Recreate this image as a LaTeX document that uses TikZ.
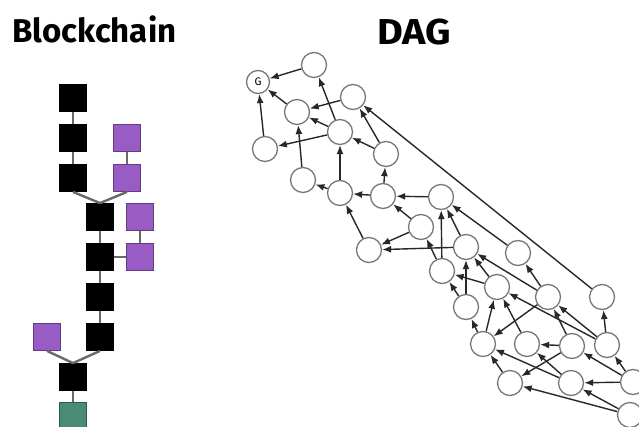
\documentclass[tikz,border=0pt]{standalone}
\usepackage{fontspec}
\setmainfont{Fira Sans}
\usetikzlibrary{arrows.meta}
\definecolor{blockpurple}{RGB}{152,92,196}
\definecolor{blockgreen}{RGB}{74,140,115}
\definecolor{edgegray}{RGB}{40,40,40}
\definecolor{ringgray}{RGB}{120,120,120}
\definecolor{linkgray}{RGB}{105,105,105}

\begin{document}
\begin{tikzpicture}[x=1pt,y=-1pt,
  title/.style={font=\fontsize{33}{33}\selectfont\bfseries, inner sep=0pt, anchor=base west},
  blk/.style={minimum size=27pt, inner sep=0pt, line width=0.8pt},
  chainblk/.style={blk, fill=black, draw=black},
  sideblk/.style={blk, fill=blockpurple, draw=blockpurple!65!black},
  rootblk/.style={blk, fill=blockgreen, draw=blockgreen!65!black},
  link/.style={draw=linkgray, line width=2.4pt},
  tx/.style={circle, draw=ringgray, line width=1.3pt, fill=white, minimum size=25pt, inner sep=0pt},
  genesis/.style={tx, minimum size=23pt, font=\fontsize{11}{11}\selectfont},
  ref/.style={draw=edgegray, line width=1.4pt, -{Latex[length=9pt,width=7pt]}}]

\useasboundingbox (0,0) rectangle (639,427);
\fill[white] (0,0) rectangle (639,427);

% titles
\node[title] (tb) at (12,43) {Blockchain};
\node[title, font=\fontsize{36}{36}\selectfont\bfseries, xscale=1.1] (td) at (377,45) {DAG};

% ---------- blockchain ----------
\node[chainblk] (b1) at (73,98) {};
\node[chainblk] (b2) at (73,138) {};
\node[chainblk] (b3) at (73,178) {};
\node[chainblk] (b4) at (100,217) {};
\node[chainblk] (b5) at (100,257) {};
\node[chainblk] (b6) at (100,297) {};
\node[chainblk] (b7) at (100,337) {};
\node[chainblk] (b8) at (73,377) {};
\node[rootblk]  (b0) at (73,416) {};
\node[sideblk] (p1) at (127,138) {};
\node[sideblk] (p2) at (127,178) {};
\node[sideblk] (p3) at (140,217) {};
\node[sideblk] (p4) at (140,257) {};
\node[sideblk] (p5) at (47,337) {};

\draw[link] (b1) -- (b2);
\draw[link] (b2) -- (b3);
\draw[link] (b3.south) -- (b4.north);
\draw[link] (p2.south) -- (b4.north);
\draw[link] (p1) -- (p2);
\draw[link] (b4) -- (b5);
\draw[link] (b5) -- (b6);
\draw[link] (b6) -- (b7);
\draw[link] (p3) -- (p4);
\draw[link] (b5) -- (p4);
\draw[link] (b7.south) -- (b8.north);
\draw[link] (p5.south) -- (b8.north);
\draw[link] (b8) -- (b0);

% ---------- DAG ----------
\node[genesis] (g) at (258,82) {G};
\node[tx] (n1)  at (314,65) {};
\node[tx] (n2)  at (297,112) {};
\node[tx] (n3)  at (353,97) {};
\node[tx] (n4)  at (265,149) {};
\node[tx] (n5)  at (340,132) {};
\node[tx] (n6)  at (303,180) {};
\node[tx] (n7)  at (340,193) {};
\node[tx] (n8)  at (386,154) {};
\node[tx] (n9)  at (383,196) {};
\node[tx] (n10) at (441,197) {};
\node[tx] (n11) at (421,227) {};
\node[tx] (n12) at (369,250) {};
\node[tx] (n13) at (466,247) {};
\node[tx] (n14) at (442,271) {};
\node[tx] (n15) at (518,253) {};
\node[tx] (n16) at (497,287) {};
\node[tx] (n17) at (548,297) {};
\node[tx] (n18) at (602,297) {};
\node[tx] (n19) at (466,307) {};
\node[tx] (n20) at (483,344) {};
\node[tx] (n21) at (527,344) {};
\node[tx] (n22) at (572,346) {};
\node[tx] (n23) at (607,345) {};
\node[tx] (n24) at (510,383) {};
\node[tx] (n25) at (571,383) {};
\node[tx] (n26) at (633,382) {};
\node[tx] (n27) at (630,415) {};

\foreach \a/\b in {n1/g, n2/g, n4/g,
  n5/n1, n3/n2, n5/n2, n6/n2, n5/n4,
  n7/n5, n8/n5, n8/n3, n18/n3,
  n9/n8, n7/n6, n9/n7, n10/n9, n11/n9, n12/n7,
  n11/n12, n13/n12,
  n14/n10, n13/n10, n15/n10,
  n14/n11, n19/n13, n16/n13, n17/n13, n16/n14, n19/n14,
  n17/n15, n23/n18,
  n20/n19, n20/n16, n21/n16, n23/n16,
  n17/n20, n22/n17, n23/n17,
  n22/n21, n25/n21, n22/n24, n25/n20, n24/n20,
  n26/n22, n26/n23, n26/n25, n27/n24, n27/n25}
  \draw[ref] (\a) -- (\b);
\end{tikzpicture}
\end{document}
